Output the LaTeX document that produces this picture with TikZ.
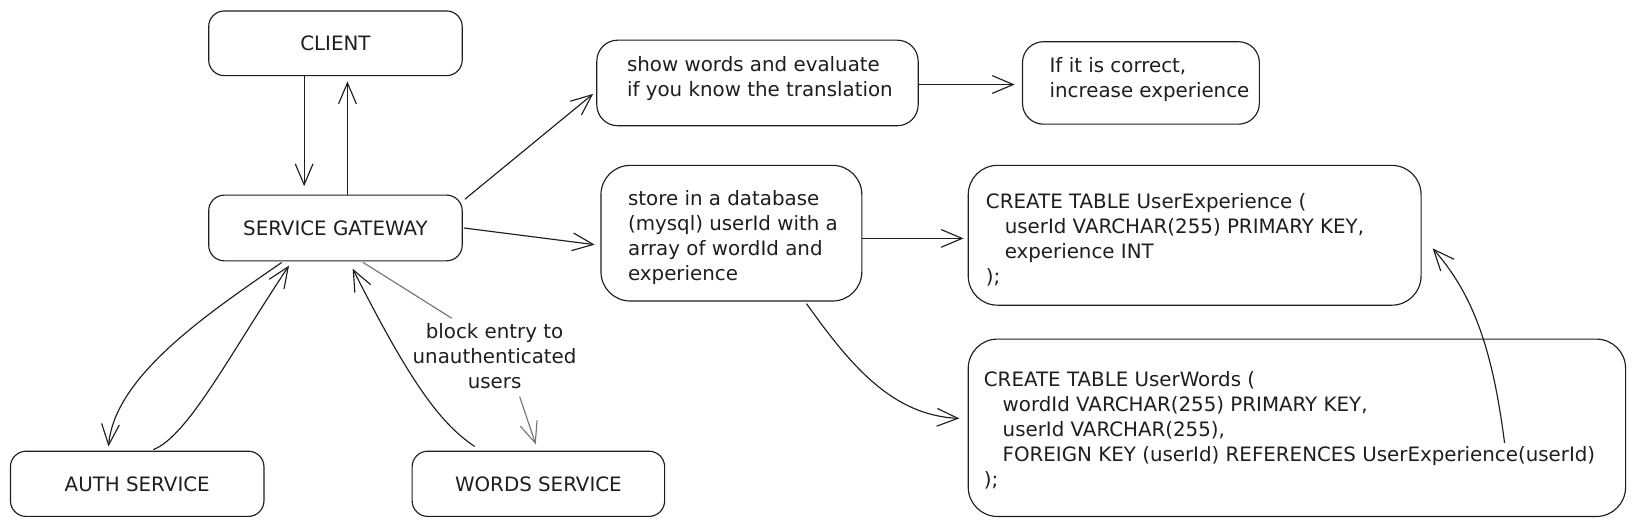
\documentclass[tikz,border=0pt]{standalone}
\usepackage{fontspec}
\setmainfont{DejaVu Sans}
\usetikzlibrary{arrows.meta,calc}
\definecolor{ink}{HTML}{1E1E1E}
\definecolor{soft}{HTML}{757575}
\begin{document}
\begin{tikzpicture}[x=1pt,y=-1pt,
  color=ink, line width=1.1pt,
  >={Straight Barb[length=20pt,width=17pt]},
  box/.style={draw=ink, rounded corners=15pt, inner sep=0pt, line width=1.1pt,
              font=\fontsize{19}{24}\selectfont, text=ink},
  midbox/.style={box, rounded corners=20pt},
  bigbox/.style={box, rounded corners=28pt},
  txt/.style={font=\fontsize{19}{24}\selectfont, text=ink, align=left, inner sep=0pt},
  conn/.style={draw=ink, line width=1.1pt, ->},
  note/.style={draw=soft, line width=1.1pt},
]
\useasboundingbox (0,0) rectangle (1568,505.1);

% boxes
\node[box, minimum width=243pt, minimum height=62pt] (client) at (321.5,41.5) {CLIENT};
\node[box, minimum width=243pt, minimum height=63pt] (gw) at (321.5,218.5) {SERVICE GATEWAY};
\node[box, minimum width=243pt, minimum height=62.5pt] (auth) at (131.5,463.7) {AUTH SERVICE};
\node[box, minimum width=242pt, minimum height=62.5pt] (words) at (516,463.7) {WORDS SERVICE};
\node[midbox, minimum width=308pt, minimum height=82pt] (show) at (726,79.5) {};
\node[midbox, minimum width=227pt, minimum height=79pt] (correct) at (1093.5,79.5) {};
\node[bigbox, minimum width=250pt, minimum height=130pt] (store) at (701,223.5) {};
\node[bigbox, minimum width=434pt, minimum height=134pt] (uexp) at (1145,225.5) {};
\node[bigbox, minimum width=630pt, minimum height=170pt] (uwords) at (1243,410) {};

% texts
\node[txt, anchor=west] (showt) at ($(show.west)+(29,-4)$) {show words and evaluate\\if you know the translation};
\node[txt, anchor=west] (correctt) at ($(correct.west)+(26,-3)$) {If it is correct,\\increase experience};
\node[txt, anchor=west] (storet) at ($(store.west)+(26,4)$) {store in a database\\(mysql) userId with a\\array of wordId and\\experience};
\node[txt, anchor=west] (uexpt) at ($(uexp.west)+(17,4)$) {CREATE TABLE UserExperience (\\\hspace*{18pt}userId VARCHAR(255) PRIMARY KEY,\\\hspace*{18pt}experience INT\\);};
\node[txt, anchor=west] (uwordst) at ($(uwords.west)+(15,2.5)$) {CREATE TABLE UserWords (\\\hspace*{18pt}wordId VARCHAR(255) PRIMARY KEY,\\\hspace*{18pt}userId VARCHAR(255),\\\hspace*{18pt}FOREIGN KEY (userId) REFERENCES UserExperience(userId)\\);};
\node[txt, align=center] (lbl) at (474,341) {block entry to\\unauthenticated\\users};

% connectors
\draw[conn] ($(client.south)+(-30,0)$) -- ($(gw.north)+(-30,-8)$);
\draw[conn] ($(gw.north)+(11.5,0)$) -- ($(client.south)+(11.5,5)$);
\draw[conn] ($(gw.north east)+(2,4.5)$) -- ($(show.west)+(-3,10.5)$);
\draw[conn] ($(gw.east)+(1,0)$) -- ($(store.west)+(-5.5,11)$);
\draw[conn] ($(show.east)+(0,1.5)$) -- ($(correct.west)+(-7,1.5)$);
\draw[conn] ($(store.east)+(0,5)$) -- ($(uexp.west)+(-4,3)$);
\draw[conn] ($(store.south)+(72,2)$) .. controls (815,350) and (855,398) .. ($(uwords.west)+(-8,-9)$);
\draw[conn] ($(uwords.north)+(199,100)$) .. controls (1430,330) and (1410,280) .. ($(uexp.east)+(10.5,12.5)$);
\draw[conn] ($(gw.south)+(-51.5,1)$) .. controls (200,300) and (110,360) .. ($(auth.north)+(-27.5,-4)$);
\draw[conn] ($(auth.north)+(15.5,-1)$) .. controls (180,418) and (220,340) .. ($(gw.south)+(-44.5,4)$);
\draw[conn] ($(words.north)+(-61,-4)$) .. controls (420,405) and (390,360) .. ($(gw.south)+(16.5,7)$);
\draw[note] ($(gw.south)+(26.5,1)$) -- ($(lbl.center)+(-41,-36)$);
\draw[note, ->] ($(lbl.center)+(24,39)$) -- ($(words.north)+(-2.5,-6)$);
\end{tikzpicture}
\end{document}
